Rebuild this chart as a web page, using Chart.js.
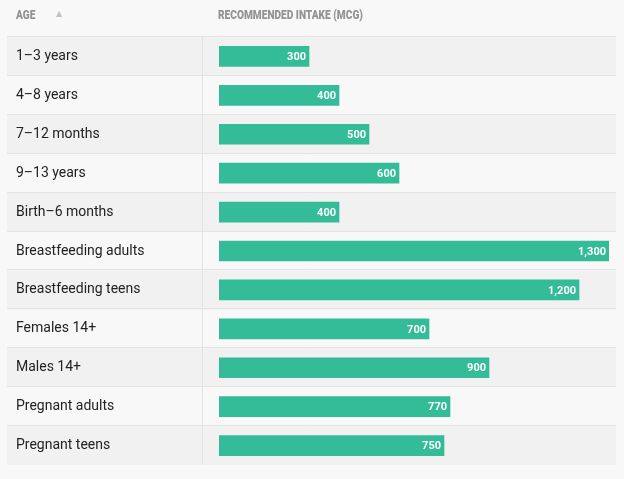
<!DOCTYPE html>
<html>
<head>
<meta charset="utf-8">
<script src="https://cdn.jsdelivr.net/npm/chart.js@4"></script>
<style>
  body { margin: 0; background: #f8f8f8; }
  #wrap { position: relative; width: 624px; height: 479px; }
  .head {
    position: absolute; top: 7px;
    font-family: Roboto, sans-serif;
    font-weight: 900; font-size: 13px; color: #939393;
    transform: scaleX(0.78); transform-origin: left center;
    white-space: nowrap;
  }
  .arrow { position: absolute; left: 56px; top: 9px; font-family: 'DejaVu Sans', sans-serif; font-size: 8px; color: #c2c2c2; }
</style>
</head>
<body>
<div id="wrap">
  <div class="head" style="left:16px">AGE</div>
  <span class="arrow">▲</span>
  <div class="head" style="left:218px">RECOMMENDED INTAKE (MCG)</div>
  <canvas id="myChart" width="624" height="479"></canvas>
</div>
<script>
// data
const ageGroups = [
    '1–3 years',
    '4–8 years',
    '7–12 months',
    '9–13 years',
    'Birth–6 months',
    'Breastfeeding adults',
    'Breastfeeding teens',
    'Females 14+',
    'Males 14+',
    'Pregnant adults',
    'Pregnant teens'
];
const intake = [300, 400, 500, 600, 400, 1300, 1200, 700, 900, 770, 750];

// row stripes + lines, drawn before the axis labels
const tableRows = {
    id: 'tableRows',
    beforeDraw(chart) {
        const ctx = chart.ctx;
        const y = chart.scales.y;
        const half = (y.getPixelForValue(1) - y.getPixelForValue(0)) / 2;
        const left = 7, right = 616;
        ctx.save();
        ageGroups.forEach((g, i) => {
            const mid = y.getPixelForValue(i);
            if (i % 2 == 0) {
                ctx.fillStyle = '#f1f1f1';
                ctx.fillRect(left, mid - half, right - left, half * 2);
            }
        });
        ctx.strokeStyle = '#e3e3e3';
        ctx.lineWidth = 1;
        ageGroups.forEach((g, i) => {
            const top = Math.round(y.getPixelForValue(i) - half) - 0.5;
            ctx.beginPath();
            ctx.moveTo(left, top);
            ctx.lineTo(right, top);
            ctx.stroke();
        });
        // column divider
        ctx.beginPath();
        ctx.moveTo(202.5, y.getPixelForValue(0) - half);
        ctx.lineTo(202.5, y.getPixelForValue(ageGroups.length - 1) + half);
        ctx.stroke();
        ctx.restore();
    }
};

// white numbers at the end of each bar
const barValues = {
    id: 'barValues',
    afterDatasetsDraw(chart) {
        const ctx = chart.ctx;
        const meta = chart.getDatasetMeta(0);
        ctx.save();
        ctx.fillStyle = '#ffffff';
        ctx.font = 'bold 11px Roboto, sans-serif';
        ctx.textAlign = 'right';
        ctx.textBaseline = 'middle';
        meta.data.forEach((bar, i) => {
            ctx.fillText(intake[i].toLocaleString('en-US'), bar.x - 3, bar.y + 1);
        });
        ctx.restore();
    }
};

let data = {
    labels: ageGroups,
    datasets: [{
        label: 'Recommended intake (mcg)',
        data: intake,
        backgroundColor: '#34bc98',
        barThickness: 20,
    }]
};

let config = {
    type: 'bar',
    data: data,
    options: {
        indexAxis: 'y',
        responsive: false,
        animation: false,
        layout: { padding: { left: 16, right: 15, top: 37, bottom: 14 } },
        plugins: {
            legend: { display: false },
            tooltip: { enabled: false }
        },
        scales: {
            x: { display: false, min: 0, max: 1300 },
            y: {
                grid: { display: false },
                border: { display: false },
                ticks: {
                    autoSkip: false,
                    crossAlign: 'far',
                    color: '#222222',
                    font: { family: 'Roboto', size: 14 }
                },
                afterFit(scale) { scale.width = 203; }
            }
        }
    },
    plugins: [tableRows, barValues]
};

const myChart = new Chart(document.getElementById('myChart'), config);
</script>
</body>
</html>
